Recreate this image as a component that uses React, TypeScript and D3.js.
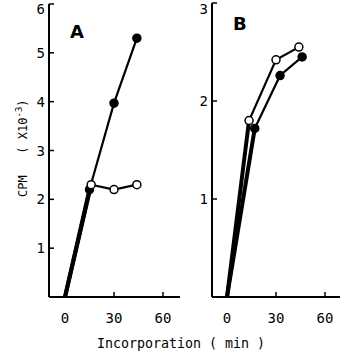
import React, { useEffect, useRef } from 'react';
import * as d3 from 'd3';

// Panel A values (minutes, CPM x10^-3)
const aTimes = [0, 15, 30, 44];
const aFilled = [0, 2.2, 3.97, 5.3];
const aOpenTimes = [0, 16, 30, 44];
const aOpen = [0, 2.3, 2.2, 2.3];
const aTicksY = [1, 2, 3, 4, 5, 6];

// Panel B values
const bOpenTimes = [0, 13.5, 30, 44];
const bOpen = [0, 1.8, 2.42, 2.55];
const bFilledTimes = [0, 17, 32.5, 46];
const bFilled = [0, 1.72, 2.26, 2.45];
const bTicksY = [1, 2, 3];

const xTicks = [0, 30, 60];

const App = () => {
  const ref = useRef<SVGSVGElement>(null);

  useEffect(() => {
    const svg = d3.select(ref.current);
    svg.selectAll('*').remove();

    const mono = '"DejaVu Sans Mono", monospace';

    const panels = [
      {
        label: 'A', left: 49, right: 180, x0: 65, yMax: 6, top: 4, ticks: aTicksY,
        series: [
          { t: aTimes, v: aFilled, filled: true },
          { t: aOpenTimes, v: aOpen, filled: false },
        ],
        labelPos: [70, 38],
      },
      {
        label: 'B', left: 212, right: 340, x0: 227, yMax: 3, top: 3, ticks: bTicksY,
        series: [
          { t: bFilledTimes, v: bFilled, filled: true },
          { t: bOpenTimes, v: bOpen, filled: false },
        ],
        labelPos: [233, 30],
      },
    ];

    const bottom = 297;

    panels.forEach(p => {
      const x = d3.scaleLinear().domain([0, 60]).range([p.x0, p.x0 + 98]);
      const y = d3.scaleLinear().domain([0, p.yMax]).range([bottom, p.top]);
      const g = svg.append('g');

      // Axis lines
      g.append('line').attr('x1', p.left).attr('x2', p.left)
        .attr('y1', p.top).attr('y2', bottom)
        .attr('stroke', '#000').attr('stroke-width', 2);
      g.append('line').attr('x1', p.left).attr('x2', p.right)
        .attr('y1', bottom).attr('y2', bottom)
        .attr('stroke', '#000').attr('stroke-width', 2);

      // Y ticks (inward)
      p.ticks.forEach(d => {
        g.append('line').attr('x1', p.left).attr('x2', p.left + 5)
          .attr('y1', y(d)).attr('y2', y(d))
          .attr('stroke', '#000').attr('stroke-width', 1.5);
        g.append('text').attr('x', p.left - 4).attr('y', Math.max(y(d) + 5, 14))
          .attr('text-anchor', 'end')
          .style('font-family', mono).style('font-size', '14px')
          .text(d);
      });

      // X ticks (inward)
      xTicks.forEach(d => {
        g.append('line').attr('x1', x(d)).attr('x2', x(d))
          .attr('y1', bottom).attr('y2', bottom - 5)
          .attr('stroke', '#000').attr('stroke-width', 1.5);
        g.append('text').attr('x', x(d)).attr('y', bottom + 26)
          .attr('text-anchor', 'middle')
          .style('font-family', mono).style('font-size', '14px')
          .text(d);
      });

      const line = d3.line<[number, number]>()
        .x(d => x(d[0])).y(d => y(d[1]));

      p.series.forEach(s => {
        const pts: [number, number][] = s.t.map((t, i) => [t, s.v[i]]);
        g.append('path').datum(pts)
          .attr('d', line)
          .attr('fill', 'none').attr('stroke', '#000')
          .attr('stroke-width', 2.2);
        // Thick first segment
        g.append('path').datum(pts.slice(0, 2))
          .attr('d', line)
          .attr('fill', 'none').attr('stroke', '#000')
          .attr('stroke-width', 4);
      });

      p.series.forEach(s => {
        g.selectAll(null)
          .data(s.t.slice(1).map((t, i) => [t, s.v[i + 1]]))
          .enter().append('circle')
          .attr('cx', d => x(d[0])).attr('cy', d => y(d[1]))
          .attr('r', 4)
          .attr('fill', s.filled ? '#000' : '#fff')
          .attr('stroke', '#000').attr('stroke-width', 1.5);
      });

      g.append('text').attr('x', p.labelPos[0]).attr('y', p.labelPos[1])
        .style('font-family', '"DejaVu Sans", sans-serif')
        .style('font-weight', 'bold').style('font-size', '18px')
        .text(p.label);
    });

    // Y-axis label
    const yl = svg.append('text')
      .attr('transform', 'translate(27, 197) rotate(-90)')
      .style('font-family', mono).style('font-size', '12px')
      .style('white-space', 'pre');
    yl.append('tspan').text('CPM   ( X10');
    yl.append('tspan').attr('dy', -5).style('font-size', '9px').text('-3');
    yl.append('tspan').attr('dy', 5).text(')');

    // X-axis label
    svg.append('text').attr('x', 181).attr('y', 348)
      .attr('text-anchor', 'middle')
      .style('font-family', mono).style('font-size', '13.3px')
      .style('white-space', 'pre')
      .text('Incorporation ( min )');
  }, []);

  return (
    <svg ref={ref} width={340} height={354}
      style={{ position: 'absolute', left: 0, top: 0, background: '#fff' }} />
  );
};

export default App;
